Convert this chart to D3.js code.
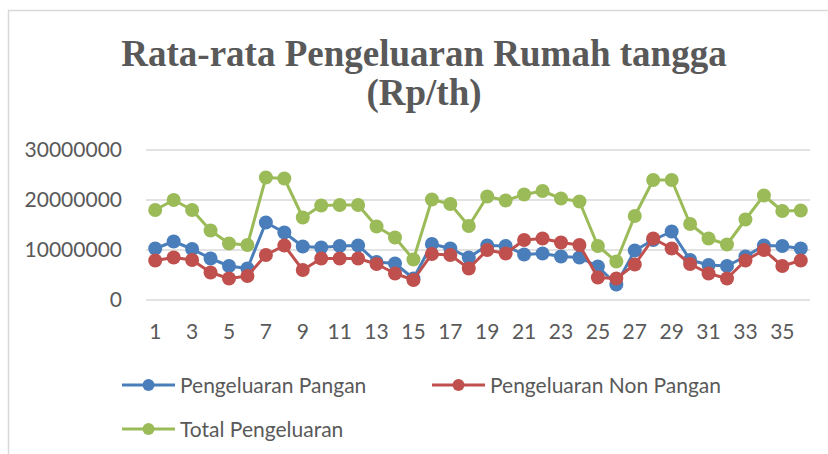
<!DOCTYPE html>
<html>
<head>
<meta charset="utf-8">
<script src="https://cdn.jsdelivr.net/npm/d3@7"></script>
<style>
  body { margin: 0; background: #fff; }
</style>
</head>
<body>
<div id="container"></div>
<script>
/* DATA */
const categories = d3.range(1, 37);
const tickLabels = categories.filter(d => d % 2 === 1);
const yTicks = [0, 10000000, 20000000, 30000000];

const pangan = [10300000, 11700000, 10200000, 8300000, 6800000, 6300000, 15500000, 13500000, 10700000, 10500000, 10800000, 10900000,
  7600000, 7300000, 4300000, 11200000, 10300000, 8500000, 10900000, 10800000, 9100000, 9300000, 8700000, 8500000,
  6700000, 3100000, 9900000, 12000000, 13700000, 8000000, 7000000, 6800000, 8700000, 10900000, 10800000, 10300000];
const nonPangan = [7900000, 8500000, 8000000, 5500000, 4300000, 4800000, 9000000, 10900000, 6000000, 8300000, 8300000, 8300000,
  7200000, 5300000, 4000000, 9200000, 9000000, 6300000, 10000000, 9300000, 12000000, 12300000, 11500000, 11000000,
  4500000, 4300000, 7100000, 12300000, 10300000, 7200000, 5300000, 4300000, 7900000, 10000000, 6800000, 7900000];
const total = [18000000, 20000000, 18000000, 13900000, 11300000, 11000000, 24500000, 24300000, 16500000, 18900000, 19000000, 19000000,
  14700000, 12500000, 8100000, 20100000, 19200000, 14800000, 20700000, 19900000, 21100000, 21800000, 20300000, 19700000,
  10800000, 7700000, 16800000, 24000000, 24000000, 15200000, 12300000, 11100000, 16100000, 20900000, 17800000, 17900000];

const seriesNames = ["Pengeluaran Pangan", "Pengeluaran Non Pangan", "Total Pengeluaran"];
const seriesColors = ["#4a7ebb", "#c0504d", "#9bbb59"];

/* CONSTANTS */
const width = 828, height = 454;
const plot = { left: 146, right: 810, top: 150, bottom: 300 };
const labelFont = "Lato, 'Open Sans', sans-serif";
const textColor = "#595959";

const svg = d3.select("#container")
  .append("svg")
  .attr("width", width)
  .attr("height", height);

// chart area border
svg.append("rect")
  .attr("x", 8.5).attr("y", 10.5)
  .attr("width", 840).attr("height", 460)
  .attr("fill", "none")
  .attr("stroke", "#d9d9d9")
  .attr("stroke-width", 1.5);

// TITLE
svg.append("text")
  .attr("x", 424).attr("y", 66)
  .attr("text-anchor", "middle")
  .style("font-family", "'Liberation Serif', 'Times New Roman', serif")
  .style("font-weight", "bold")
  .style("font-size", "37px")
  .style("fill", textColor)
  .text("Rata-rata Pengeluaran Rumah tangga");
svg.append("text")
  .attr("x", 424).attr("y", 105)
  .attr("text-anchor", "middle")
  .style("font-family", "'Liberation Serif', 'Times New Roman', serif")
  .style("font-weight", "bold")
  .style("font-size", "37px")
  .style("fill", textColor)
  .text("(Rp/th)");

// SCALES
const x = d3.scaleBand()
  .domain(categories)
  .range([plot.left, plot.right])
  .padding(0);
const cx = d => x(d) + x.bandwidth() / 2;

const y = d3.scaleLinear()
  .domain([0, 30000000])
  .range([plot.bottom, plot.top]);

// GRIDLINES
svg.append("g")
  .selectAll("line")
  .data(yTicks)
  .join("line")
  .attr("x1", plot.left).attr("x2", plot.right)
  .attr("y1", d => y(d)).attr("y2", d => y(d))
  .attr("stroke", "#d9d9d9")
  .attr("stroke-width", 1.5);

// Y AXIS LABELS
const yAxis = svg.append("g")
  .attr("transform", `translate(${plot.left - 24},0)`)
  .call(d3.axisLeft(y).tickValues(yTicks).tickSize(0).tickPadding(0).tickFormat(d3.format("d")));
yAxis.select(".domain").remove();
yAxis.selectAll("text")
  .style("font-family", labelFont)
  .style("font-size", "21px")
  .style("fill", textColor);

// X AXIS LABELS
const xAxis = svg.append("g")
  .attr("transform", `translate(0,${plot.bottom})`)
  .call(d3.axisBottom(x).tickValues(tickLabels).tickSize(0).tickPadding(24));
xAxis.select(".domain").remove();
xAxis.selectAll("text")
  .style("font-family", labelFont)
  .style("font-size", "21px")
  .style("fill", textColor);

// LINES + MARKERS
const allSeries = [pangan, nonPangan, total];
const line = d3.line()
  .x((d, i) => cx(categories[i]))
  .y(d => y(d));

allSeries.forEach((values, s) => {
  const g = svg.append("g");
  g.append("path")
    .datum(values)
    .attr("d", line)
    .attr("fill", "none")
    .attr("stroke", seriesColors[s])
    .attr("stroke-width", 3)
    .attr("stroke-linejoin", "round");
  g.selectAll("circle")
    .data(values)
    .join("circle")
    .attr("cx", (d, i) => cx(categories[i]))
    .attr("cy", d => y(d))
    .attr("r", 7)
    .attr("fill", seriesColors[s]);
});

// LEGEND
const legendPos = [[122, 385], [432, 385], [122, 429]];
seriesNames.forEach((name, s) => {
  const [lx, ly] = legendPos[s];
  const g = svg.append("g").attr("transform", `translate(${lx},${ly})`);
  g.append("line")
    .attr("x1", 0).attr("x2", 53)
    .attr("y1", 0).attr("y2", 0)
    .attr("stroke", seriesColors[s])
    .attr("stroke-width", 3);
  g.append("circle")
    .attr("cx", 26.5).attr("cy", 0)
    .attr("r", 6)
    .attr("fill", seriesColors[s]);
  g.append("text")
    .attr("x", 58).attr("y", 7.5)
    .style("font-family", labelFont)
    .style("font-size", "21px")
    .style("fill", textColor)
    .text(name);
});
</script>
</body>
</html>
